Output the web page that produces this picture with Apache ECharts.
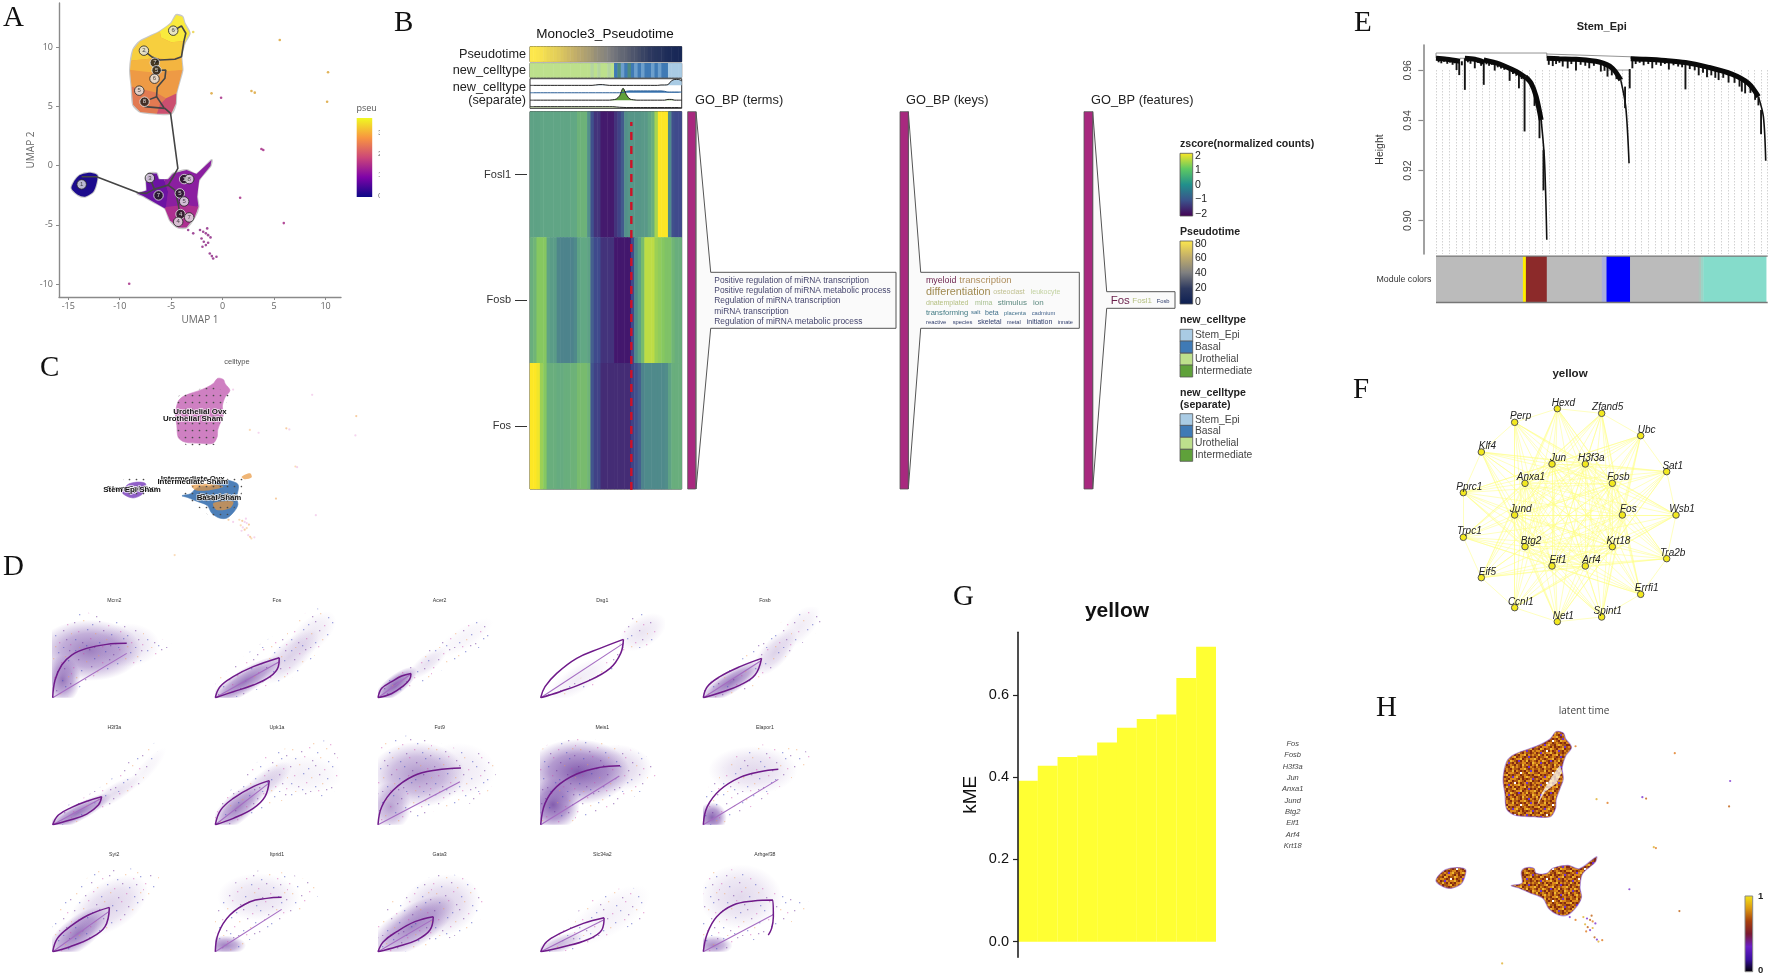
<!DOCTYPE html>
<html><head><meta charset="utf-8"><title>Figure</title>
<style>html,body{margin:0;padding:0;background:#fff}#c{width:1772px;height:978px;filter:blur(0.45px)}</style>
<script src="https://cdn.jsdelivr.net/npm/echarts@6/dist/echarts.min.js"></script>
</head><body><div id="c"></div>
<script>
/* ---------- Panel A / C / H : UMAP outlines (UMAP units) ---------- */
const umapUpper=[[-4.5,12.75],[-3.9,12.6],[-3.7,12.05],[-3.2,11.2],[-3.7,10.35],[-4,9.2],[-3.9,8.1],[-4.15,7.25],[-4.5,6.1],[-4.55,5.25],[-5,4.4],[-6.4,4.4],[-8,4.55],[-8.7,5.15],[-8.85,6.7],[-9,8.1],[-8.7,9.8],[-8.05,10.5],[-6.1,11.35],[-5,12.05]];
const umapLower=[[-8.3,-2.34],[-7.4,-2.1],[-7.46,-1.07],[-7.2,-.65],[-6.4,-.65],[-6.2,-1.15],[-5.3,-1.15],[-4.8,-.65],[-3.5,-.37],[-2.54,-.7],[-1.08,.48],[-1.18,-.03],[-2.28,-1.21],[-2.48,-2.62],[-2.35,-3.47],[-2.7,-4.31],[-3.51,-5.22],[-4.32,-5.22],[-5.13,-4.6],[-5.61,-3.61],[-6.75,-3.05],[-7.72,-2.57]];
const umapLowerNoSpike=[[-8.3,-2.34],[-7.4,-2.1],[-6.9,-1.5],[-6.2,-1.15],[-5.3,-1.15],[-4.8,-.65],[-3.5,-.37],[-2.45,-.75],[-2.28,-1.21],[-2.48,-2.62],[-2.35,-3.47],[-2.7,-4.31],[-3.51,-5.22],[-4.32,-5.22],[-5.13,-4.6],[-5.61,-3.61],[-6.75,-3.05],[-7.72,-2.57]];
const umapLeft=[[-14.68,-1.92],[-14.45,-1.35],[-13.87,-.79],[-12.9,-.59],[-12.18,-.79],[-12.25,-1.49],[-12.57,-2.2],[-13.38,-2.62],[-14.03,-2.48]];
const aBands=[
[[-4.5,12.75],[-3.9,12.6],[-3.7,12.05],[-3.2,11.2],[-3.6,10.55],[-5,10.45],[-6,10.85],[-6.1,11.35],[-5,12.05]],
[[-6.1,11.35],[-6,10.85],[-5,10.45],[-3.6,10.55],[-3.7,10.35],[-4,9.2],[-5.5,9],[-6.6,9.1],[-7.5,9],[-8.9,8.9],[-8.7,9.8],[-8.05,10.5]],
[[-8.9,8.9],[-7.5,9],[-6.6,9.1],[-5.5,9],[-4,9.2],[-3.9,8.1],[-5.5,7.9],[-7,7.9],[-7.8,7.9],[-9,8.1]],
[[-9,8.1],[-7,7.9],[-3.9,8.1],[-4.15,7.25],[-4.5,6.1],[-5.5,5.7],[-6.5,6.2],[-7.5,6.4],[-8.85,6.7]],
[[-8.85,6.7],[-7.5,6.4],[-6.5,6.2],[-5.5,5.7],[-6.1,5.2],[-6.4,4.4],[-8,4.55],[-8.7,5.15]],
[[-5.5,5.7],[-4.5,6.1],[-4.55,5.25],[-5,4.4],[-6.4,4.4],[-6.1,5.2]],
[[-8.3,-2.34],[-7.4,-2.1],[-7.46,-1.07],[-7.2,-.65],[-6.4,-.65],[-6.2,-1.15],[-5.7,-1.15],[-5.3,-2.2],[-5.5,-3.5],[-5.61,-3.61],[-6.75,-3.05],[-7.72,-2.57]],
[[-5.7,-1.15],[-5.3,-1.15],[-4.8,-.65],[-3.5,-.37],[-2.54,-.7],[-1.08,.48],[-1.18,-.03],[-2.28,-1.21],[-2.48,-2.62],[-2.35,-3.47],[-3.7,-3.3],[-5.5,-3.5],[-5.3,-2.2]],
[[-5.61,-3.61],[-5.5,-3.5],[-3.7,-3.3],[-2.35,-3.47],[-2.7,-4.31],[-3.51,-5.22],[-4.32,-5.22],[-5.13,-4.6]],
umapLeft];
const aBandColors=['#f9ea3d','#f7cf3e','#f4b540','#ee9a45','#e27a52','#cb4f70','#6c13a2','#8b1fa0','#ad2f90','#1c0b8d'];
const umapOutliers=[[5.55,10.63],[10.24,7.9],[10.15,5.41],[-1.08,6.12],[-.15,5.75],[2.8,6.32],[3.12,6.18],[3.77,1.41],[3.95,1.33],[1.7,-2.71],[5.94,-4.85],[-9.08,-9.98],[-2.86,11.31],[-1.89,-5.58],[-1.63,-5.72],[-2.05,-6.15],[-1.41,-5.87],[-1.18,-6.06],[-1.83,-6.43],[-1.41,-6.51],[-1.96,-6.85],[-1.63,-6.71],[-1.25,-7.42],[-.92,-7.84],[-.6,-7.7],[-1.05,-7.64],[-1.5,-5.3],[-2.2,-5.44],[-2.86,-5.72],[-3.35,-5.44]];
const aOutlierColors=['#d9a030','#d9a030','#d9a030','#d9a030','#a02080','#d9a030','#d9a030','#a02080','#a02080','#a02080','#a02080','#a02080','#e8d040','#8a1f80','#8a1f80','#8a1f80','#8a1f80','#8a1f80','#8a1f80','#8a1f80','#8a1f80','#8a1f80','#8a1f80','#8a1f80','#8a1f80','#8a1f80','#8a1f80','#8a1f80','#8a1f80','#8a1f80'];
const aPaths=[
[[-13.7,-.93],[-12.25,-.93],[-8.2,-2.28],[-7.4,-2.34],[-6.68,-2],[-5.29,-1.64],[-4.64,-2.06],[-4.32,-3.19],[-4.16,-4.17]],
[[-7.07,-1.04],[-6.59,-2.06]],
[[-5.29,-1.64],[-4.8,-.93],[-4.35,-.23],[-5.06,4.43],[-5.61,4.85],[-7.59,5]],
[[-7.07,5.61],[-6.42,5.84],[-6.36,6.63],[-5.61,7.39],[-5.52,8.09],[-6.42,8.04]],
[[-6.42,5.84],[-5.7,4.9]],
[[-7.65,9.73],[-6.91,9.22],[-6.1,8.94],[-4.64,9],[-4,9.22],[-3.77,10.49],[-3.58,11.2],[-4,11.82],[-4.8,11.42]],
[[-6.59,8.71],[-6.1,8.94]]];
const aNodes=[[-4.8,11.42,'6',0],[-7.65,9.73,'2',0],[-6.59,8.71,'7',1],[-6.42,8.07,'5',1],[-6.62,7.36,'6',0],[-8.1,6.35,'5',0],[-7.59,5.41,'8',1],[-7.07,-1.04,'3',0],[-3.74,-1.13,'1',1],[-3.25,-1.13,'8',0],[-6.23,-2.51,'7',1],[-4.16,-2.34,'5',1],[-3.74,-3.02,'5',0],[-4.09,-4.09,'4',1],[-3.25,-4.37,'7',0],[-4.32,-4.74,'4',0],[-13.7,-1.58,'1',0]];
const aXTicks=[-15,-10,-5,0,5,10];
const aYTicks=[-10,-5,0,5,10];
const aColorbarTicks=['3','2','1','0'];

/* ---------- Panel B ---------- */
const bGenes=['Fosl1','Fosb','Fos'];
const zFosl1=[.4,.4,.4,.45,.45,.45,.45,.45,.45,.45,.45,.45,.5,.5,.65,.65,.65,.1,-.9,-1.3,-1.3,-1.8,-1.8,-1.8,-1.8,-1.3,-1.1,-.7,.1,.2,.2,.2,.2,.25,.25,.45,.6,1.3,2,2,2,0,-.9,-1,-1];
const zFosb=[.6,.7,1,1,1,.4,.3,.3,-.05,-.1,-.1,-.1,-.1,0,.4,.5,.5,.4,-.6,-1,-1,-1.3,-1.3,-1.3,-1.3,-1.9,-1.9,-1.9,-1.9,-1.9,-1,0,.4,.8,1.5,1.5,1.5,1.2,1.1,1,.9,.9,.7,.6,.6];
const zFos=[2,2,1.9,1.2,1,.6,.6,.6,.55,.55,.6,.6,.65,.65,.8,.8,.8,.7,-.8,-1.1,-1.1,-1.4,-1.4,-1.4,-1.4,-1.4,-1.4,-1.4,-1.4,-1.4,-1.1,-.9,-.6,-.1,0,0,0,0,0,0,.05,.4,.6,.6,.6];
const pseudotimeBar=[80,80,79,78,76,74,73,72,70,68,66,64,62,60,58,56,54,52,50,47,45,44,42,40,38,36,34,33,32,30,28,27,25,23,22,20,18,16,15,14,10,9,8,7,6];
const celltypeBar=[0,0,0,0,0,0,0,0,0,0,0,0,0,0,0,0,0,0,1,0,1,0,0,1,0,2,4,3,2,4,2,3,2,3,2,2,3,2,3,2,2,5,5,5,5];
const celltypeBarColors=['#bde08c','#b4d5a0','#3f7ab5','#6c9fcc','#4d8a80','#a9cbe4'];
const trackStem=[0,0,0,0,0,0,0,0,0,0,0,0,0,0,0,0,0,0,0,.05,.1,.1,.05,0,0,0,0,0,0,0,0,0,0,0,0,0,0,0,.05,.05,.1,.6,.8,.8,.6];
const trackBasal=[0,0,0,0,0,0,0,0,0,0,0,0,0,0,0,0,0,0,0,0,0,0,0,0,0,0,0,.05,.2,.25,.25,.25,.25,.25,.25,.25,.25,.25,.25,.2,.1,.1,.1,.1,.1];
const trackInter=[0,0,0,0,0,0,0,0,0,0,0,0,0,0,0,0,0,0,0,0,0,0,0,0,.05,.15,.6,1.6,.7,.15,.05,0,0,0,0,0,0,0,0,0,.1,.1,0,0,0];
const trackUro=[.12,.12,.12,.12,.12,.12,.12,.12,.12,.12,.12,.12,.12,.12,.12,.12,.12,.12,.12,.12,.12,.12,.12,.12,.12,.08,.04,.02,0,0,0,0,0,0,0,0,0,0,0,0,0,0,0,0,0];
const bTerms=['Positive regulation of miRNA transcription','Positive regulation of miRNA metabolic process','Regulation of miRNA transcription','miRNA transcription','Regulation of miRNA metabolic process'];
const bLegendTypes=['Stem_Epi','Basal','Urothelial','Intermediate'];
const bLegendColors=['#a9cbe4','#3f7ab5','#bde08c','#5fa13a'];

/* ---------- Panel C ---------- */
const cLabels=['Urothelial Ovx','Urothelial Sham','Intermediate Ovx','Intermediate Sham','Stem Epi Ovx','Stem Epi Sham','Basal Ovx','Basal Sham'];
const cDotRegions=[
[[-8.33,11.03],[-4.97,11.68],[-3.19,10.83],[-3.54,9.75],[-4.26,6.97],[-4.62,4.18],[-7.8,4.05],[-9.29,6.11],[-9.2,9.54]],
[[-8.51,-2.03],[-4.6,.54],[-1.78,.33],[-1.96,-2.46],[-3.19,-4.82],[-5.3,-5.03],[-6.9,-3.53]],
[[-14.54,.1],[-12.23,.1],[-12.23,-2.46],[-14.54,-2.46]]];
const cOrange=[[[-7.27,-.96],[-4.97,-.83],[-3.9,-1.18],[-5.7,-1.69],[-6.9,-1.6]],[[-4.97,-3.3],[-2.85,-3.1],[-3.19,-3.96],[-4.62,-4.17]],[[-1.95,.1],[-1.06,.54],[-.88,.03],[-1.6,-.23]]];

/* ---------- Panel D : phase portraits (% of each small plot) ---------- */
const dGenes=['Mcm2','Fos','Acer2','Dsg1','Fosb','H3f3a','Upk1a','Fut9','Meis1','Elapor1','Syt2','Itprid1','Gata3','Slc34a2','Arhgef38'];
const dUpper=[
[[0,0],[1.9,19.4],[7.3,35.9],[15.3,46.9],[27.4,54.2],[43.5,58.6],[59.7,59.7]],
[[0,0],[3.8,12.1],[14.5,23.1],[30.6,34.1],[51.6,44]],
[[0,0],[3,10.3],[11,17.6],[19.1,23.8],[26.6,26.7]],
[[0,0],[3.5,12.1],[12.9,26.7],[29,43.2],[47.8,54.2],[66.7,64.1]],
[[0,0],[3.2,12.1],[13.4,23.1],[29.6,34.1],[47,43.2]],
[[0,0],[4.6,10.6],[15.3,19],[28.8,26.4],[39.5,30.8]],
[[0,0],[4.3,16.1],[14.5,28.9],[30.6,41.8],[43.5,48.4]],
[[0,0],[3,19.8],[12.4,38.1],[28.5,53.5],[47.3,60.1],[66.9,62.3]],
[[0,0],[3.5,23.4],[12.9,41.8],[29,55.7],[47.8,63],[64,64.8]],
[[0,0],[3.2,19.8],[13.4,38.1],[29.6,52],[45.7,58.2],[60.5,60.8]],
[[0,0],[3.8,14.7],[14,27.5],[28.8,40.3],[45.7,48.7]],
[[0,0],[2.4,20.1],[11.8,40.3],[28,54.9],[41.4,58.6],[53.5,59.7]],
[[0,0],[4.3,11],[15.1,22],[29.8,33],[44.6,38.5]],
[[0,0],[4.8,11],[15.6,20.1],[34.4,31.1],[51.1,37.4]],
[[0,0],[3.2,20.1],[10.8,38.5],[24.2,51.3],[40.3,55.7],[55.9,56.8],[56.5,38.5],[55.1,25.6],[52.4,18.3]]];
const dLower=[
[],
[[0,0],[14.5,6.6],[30.6,13.9],[44.1,23.1],[50.8,34.1],[51.6,44]],
[[0,0],[10.8,4.4],[20.2,12.8],[25.5,20.1],[26.6,26.7]],
[[0,0],[15.6,6.6],[37.1,17.6],[55.9,32.2],[64.5,48.7],[66.7,64.1]],
[[0,0],[13.4,5.5],[29.6,13.9],[41.7,24.9],[47,43.2]],
[[0,0],[14,5.1],[27.4,11.7],[36.8,21.6],[39.5,30.8]],
[[0,0],[14.5,7],[30.6,17.9],[40.1,30.8],[43.5,48.4]],
[],[],[],
[[0,0],[14,5.5],[30.1,14.7],[42.2,27.5],[45.7,48.7]],
[],
[[0,0],[15.1,5.5],[31.2,12.8],[41.9,23.8],[44.6,38.5]],
[[0,0],[18.3,5.5],[37.1,12.8],[49.2,23.8],[51.1,37.4]],
[]];
const dThinEnd=[[59.7,48.7],[51.6,39.6],[26.6,26],[66.7,59.7],[46.5,40.7],[39,28.9],[43,45.4],[66.1,47.3],[63.4,53.5],[60.5,49.8],[45.2,44],[53.5,46.5],[44.2,35.5],[50.6,34.8],[55.9,40.3]];
/* x, y, rx, ry, angle (degrees, rising to the right), alpha */
const dHaze=[
[[30,52,35,28,0,.68],[8,20,12,22,0,.72],[60,58,22,20,0,.18]],
[[24,18,30,11,32,.72],[60,45,25,14,42,.24],[78,70,20,14,42,.12]],
[[14,14,18,9,38,.82],[40,38,16,8,38,.16],[70,66,22,10,32,.06]],
[[30,20,25,12,32,.1],[82,72,18,14,32,.14]],
[[22,17,26,10,32,.72],[58,50,20,12,48,.24],[78,78,18,12,48,.1]],
[[20,13,26,8,28,.72],[50,35,20,8,32,.18],[75,60,20,7,48,.06]],
[[18,19,22,13,42,.66],[40,45,22,11,38,.26],[70,55,28,18,0,.08]],
[[32,55,32,30,0,.55],[10,20,14,22,0,.5],[65,60,25,25,0,.12]],
[[30,58,35,30,0,.85],[10,22,18,24,0,.85],[60,62,25,22,0,.25]],
[[7,8,10,14,0,.8],[40,60,30,22,0,.2]],
[[20,20,26,15,38,.7],[45,50,30,22,32,.24]],
[[8,7,14,9,0,.65],[35,60,28,22,0,.17]],
[[27,27,34,19,32,.62],[50,50,28,28,20,.26]],
[[15,8,18,8,22,.38],[55,40,32,18,32,.08]],
[[8,7,13,9,0,.6],[30,60,28,30,0,.2]]];
const dCloud=[
[[0,0],[0,48],[4.6,78],[22,94],[49,85],[76,71],[97,56],[65,37],[38,27],[11,1]],
[[0,0],[0,15],[14,35],[35,58],[60,78],[80,98],[100,85],[85,55],[65,25],[40,12],[15,0]],
[[0,0],[0,15],[15,30],[35,45],[55,70],[85,88],[90,65],[45,25],[25,8],[10,0]],
[[0,0],[18,15],[45,30],[65,62],[70,90],[90,90],[95,65],[75,50],[45,15],[15,0]],
[[0,0],[0,12],[22,32],[45,60],[65,85],[92,98],[95,78],[70,50],[48,18],[15,0]],
[[0,0],[0,12],[25,30],[45,48],[70,80],[85,90],[75,50],[50,22],[25,5],[8,0]],
[[0,0],[0,18],[15,42],[35,70],[60,85],[95,90],[95,35],[60,30],[40,15],[12,0]],
[[0,0],[0,85],[25,98],[60,85],[95,70],[85,30],[45,15],[18,0]],
[[0,0],[0,80],[20,95],[55,90],[95,65],[80,35],[40,10],[15,0]],
[[0,0],[0,30],[18,65],[45,88],[90,75],[65,45],[30,12],[12,0]],
[[0,0],[0,35],[15,65],[40,90],[85,85],[75,55],[45,25],[20,5]],
[[0,0],[0,50],[15,75],[40,90],[85,70],[70,45],[30,15],[15,0]],
[[0,0],[0,30],[15,60],[50,85],[80,75],[85,40],[50,10],[20,0]],
[[0,0],[15,25],[45,60],[75,70],[85,40],[55,18],[25,2]],
[[0,0],[0,85],[25,90],[60,65],[90,50],[60,25],[25,5]]];
const speckTile=[[3,2,0],[11,5,1],[17,1,3],[26,7,2],[33,3,0],[41,6,3],[47,1,1],[58,4,0],[65,8,2],[69,2,3],
[6,11,3],[14,13,2],[22,10,0],[30,14,1],[37,11,3],[45,15,0],[53,10,2],[61,14,1],[68,12,0],
[1,19,1],[9,22,0],[19,18,3],[25,23,2],[35,20,0],[42,24,1],[50,19,3],[57,23,0],[64,20,3],[71,25,1],
[4,29,2],[13,31,3],[21,27,1],[29,32,0],[38,28,2],[46,33,3],[54,29,1],[62,32,0],[68,28,2],
[7,38,0],[16,36,1],[24,40,3],[32,37,2],[40,41,0],[49,37,1],[56,42,3],[65,38,0],[70,35,3],
[2,46,3],[11,44,2],[20,48,0],[27,45,3],[36,49,1],[44,46,0],[52,50,3],[60,45,2],[67,48,1],
[6,55,1],[15,53,0],[23,57,2],[31,54,3],[39,58,0],[48,55,1],[55,59,0],[63,54,3],[71,57,2],
[3,63,0],[10,66,3],[18,62,1],[27,66,0],[34,63,2],[43,67,3],[51,62,0],[59,66,1],[66,63,3],
[7,71,2],[14,69,0],[22,71,3],[30,70,1],[38,69,3],[46,71,0],[55,70,2],[63,71,0],[70,68,1]];
const speckColors=['rgba(60,70,190,.48)','rgba(205,70,170,.42)','rgba(240,155,85,.42)','rgba(105,45,150,.48)'];

/* ---------- Panel E ---------- */
const eYTicks=[.90,.92,.94,.96];
const eBands=[
[[0,.9648],[32,.9644],[72,.9636]],
[[87,.9648],[117,.9644],[144,.9633]],
[[144,.9641],[192,.9625],[242,.9595],[269,.9572]],
[[269,.9575],[287,.9548],[302,.9495],[317,.9402]],
[[334,.9648],[372,.9646],[422,.9644],[492,.9633],[532,.9608],[557,.9561]],
[[587,.9646],[632,.9644],[692,.9639],[752,.9631],[822,.9612],[892,.9585],[942,.9548],[972,.9495]]];
const eTrunks=[
[[317,.9402],[327,.9243],[334,.8924]],
[[557,.9561],[572,.9455],[582,.9229]],
[[972,.9495],[987,.9415],[994,.9239]]];
const eLinks=[
[[0,.9669],[334,.9669]],[[0,.9669],[0,.9648]],[[334,.9669],[334,.9648]],
[[334,.9665],[587,.9654]],[[587,.9654],[752,.9636]],[[517,.9601],[584,.9601]],[[72,.9648],[87,.9648]],[[587,.9654],[587,.9646]]];
const eSpikes=[[87,.9648,.9522],[144,.9638,.9542],[267,.9572,.9356],[297,.9508,.9458],[312,.9442,.9329],[324,.9283,.9121],[570,.9535,.9449],[584,.9605,.9528],[752,.9632,.9524],[980,.9442,.9345],
[8,.9647,.9632],[16,.9646,.9628],[24,.9646,.9634],[34,.9644,.9626],[42,.9642,.9631],[50,.964,.9622],[56,.9639,.9628],[62,.9638,.9601],[70,.9636,.9581],[78,.9636,.962],[96,.9647,.9632],[104,.9646,.9626],[117,.9644,.9608],[126,.9641,.963],[136,.9636,.9618],[152,.9638,.9624],[160,.9636,.9618],[168,.9634,.9622],[177,.963,.9599],[186,.9627,.9612],[196,.9623,.9607],[206,.9617,.9602],[222,.9606,.9558],[232,.96,.9585],[242,.9594,.9578],[250,.9585,.9528],[258,.958,.9565],
[340,.9648,.9622],[352,.9647,.9617],[362,.9646,.9625],[372,.9646,.963],[382,.9646,.9615],[397,.9645,.9608],[408,.9645,.9625],[422,.9644,.9599],[436,.9642,.9622],[450,.964,.9618],[462,.9638,.9608],[476,.9635,.9618],[497,.9632,.9595],[508,.9626,.9598],[517,.9618,.9575],[530,.9608,.958],[544,.9595,.9565],
[592,.9646,.9608],[602,.9646,.9625],[614,.9645,.963],[626,.9644,.962],[640,.9643,.9625],[652,.9642,.9608],[664,.9641,.9622],[678,.964,.9618],[690,.9639,.9625],[702,.9638,.9603],[716,.9636,.962],[730,.9634,.9615],[742,.9632,.9612],[765,.9629,.9605],[780,.9625,.96],[792,.9622,.958],[805,.9618,.959],[817,.9612,.9572],[830,.9608,.958],[842,.9604,.957],[852,.96,.9561],[866,.9596,.957],[882,.9588,.9551],[900,.958,.955],[915,.957,.9535],[922,.9565,.9515],[932,.9558,.9508],[948,.954,.951],[962,.9522,.9482],[972,.9495,.946]];
const moduleStart=[0,262,271,334,500,514,585,792,799,806];
const moduleEnd=[262,271,334,500,514,585,792,799,806,995];
const moduleColor=['#bbbbbb','#ffee00','#8c2a2a','#bbbbbb','#a9aedd','#0000ff','#bbbbbb','#b0c4bc','#9cd3c6','#85dccb'];

/* ---------- Panel F ---------- */
const fNames=['Hexd','Zfand5','Ubc','Sat1','Wsb1','Tra2b','Errfi1','Spint1','Net1','Ccnl1','Eif5','Trpc1','Pprc1','Klf4','Perp','Jun','H3f3a','Fosb','Fos','Krt18','Arf4','Eif1','Btg2','Jund','Anxa1'];
const fX=[652,785,902,980,1008,980,902,785,652,524,424,370,370,424,524,636,736,817,847,817,736,636,555,524,555];
const fY=[146,160,227,335,465,596,703,771,785,743,653,532,398,276,187,312,312,370,465,560,618,618,560,465,370];
const fHubCount=10;

/* ---------- Panel G ---------- */
const gGenes=['Krt18','Arf4','Eif1','Btg2','Jund','Anxa1','Jun','H3f3a','Fosb','Fos'];
const gKME=[.391,.4275,.449,.4526,.484,.52,.541,.552,.641,.7166];
const gYTicks=[0,.2,.4,.6];

/* ---------- Panel H ---------- */
const hTile=['bobrobbrooybrbob','robbyrobrbrobpor','brooobrbwobryoob','oyrbrboorbobrbro','rbobpoybbroyobbr','obrooobrorbrbopb','bryorbbyobrooyrb','oobrbwrorbopbrob','rbpobooybrobbrbo','bybrorbrooyrobob','orbboyrbobrbprbr','brobrbooyrbobooy','robyobrprobyrbob','bopbrorbboorbryo','yrbobrobrybobrob','obroybobrobrpobr'];
const hTileColors={o:'#dc8a1c',y:'#eeb830',b:'#ac5812',r:'#842a10',p:'#7030c8',w:'#ffffff'};
const hGap=[[-4.18,9.47],[-4.01,8.81],[-4.46,7.67],[-5.45,6.85],[-6.15,5.45],[-5.73,6.69],[-4.88,8.32]];
const hOutlierPalette=['#e07a20','#7a30d0','#c06010','#e0b030'];

/* ---------- helpers ---------- */
const FONT='"Liberation Sans",Arial,sans-serif';
const grid=[],xAxis=[],yAxis=[],series=[],graphic=[],visualMap=[];
function addGrid(l,t,w,h,xo,yo,go){
  grid.push(Object.assign({left:l,top:t,width:w,height:h,containLabel:false,show:false},go||{}));
  xAxis.push(Object.assign({type:'value',gridIndex:grid.length-1,show:false,min:0,max:100,splitLine:{show:false}},xo||{}));
  yAxis.push(Object.assign({type:'value',gridIndex:grid.length-1,show:false,min:0,max:100,splitLine:{show:false}},yo||{}));
  return grid.length-1;
}
function T(text,x,y,size,color,o){o=o||{};
  graphic.push({type:'text',x:x,y:y,z:100,rotation:o.rot||0,silent:true,style:{text:text,fontSize:size,fill:color||'#222',fontFamily:o.family||FONT,fontWeight:o.weight||'normal',fontStyle:o.style||'normal',align:o.align||'left',verticalAlign:'middle',stroke:o.stroke,lineWidth:o.lw||0}});
}
function R(x,y,w,h,fill,stroke,lw,z){graphic.push({type:'rect',z:z||90,silent:true,shape:{x:x,y:y,width:w,height:h},style:{fill:fill,stroke:stroke||null,lineWidth:lw||0}});}
function vgrad(stops){return new echarts.graphic.LinearGradient(0,0,0,1,stops.map((c,i)=>({offset:i/(stops.length-1),color:c})));}
function polys(g,list,fills,opt){opt=opt||{};
  series.push({type:'custom',coordinateSystem:'cartesian2d',xAxisIndex:g,yAxisIndex:g,silent:true,z:opt.z||2,clip:!!opt.clip,
    data:list.map((p,i)=>[i,0]),
    renderItem:(pr,api)=>{const i=api.value(0);return {type:'polygon',shape:{points:list[i].map(q=>api.coord(q)),smooth:opt.smooth||0},style:{fill:Array.isArray(fills)?fills[i]:fills,stroke:opt.stroke||(Array.isArray(fills)?fills[i]:null),lineWidth:opt.lw===undefined?.6:opt.lw}};}});
}
function dots(g,pts,colors,size,z){
  series.push({type:'scatter',xAxisIndex:g,yAxisIndex:g,silent:true,symbolSize:size,z:z||3,data:pts.map((p,i)=>({value:p,itemStyle:{color:colors[i%colors.length]}}))});
}
function tile(w,h,draw){const c=document.createElement('canvas');c.width=w;c.height=h;draw(c.getContext('2d'));return {image:c,repeat:'repeat'};}

const speck=tile(72,72,ctx=>{speckTile.forEach(s=>{ctx.fillStyle=speckColors[s[2]];ctx.fillRect(s[0],s[1],1.3,1.3);});});
const hPattern=tile(32,32,ctx=>{hTile.forEach((row,j)=>{[...row].forEach((ch,i)=>{ctx.fillStyle=hTileColors[ch];ctx.fillRect(i*2,j*2,2,2);});});});
const cDotPattern=tile(7,7,ctx=>{ctx.fillStyle='#4a4a4a';ctx.beginPath();ctx.arc(3.5,3.5,.85,0,7);ctx.fill();});

/* ---------- Panel letters ---------- */
[['A',3,18],['B',394,23],['C',40,368],['D',3,567],['E',1354,23],['F',1353,390],['G',953,597],['H',1376,708]].forEach(l=>T(l[0],l[1],l[2],29,'#111',{family:'"Liberation Serif",serif'}));

/* ---------- Panel A ---------- */
const axGray={lineStyle:{color:'#8a8a8a',width:1.4}};
const gA=addGrid(59,3,282,294,
 {show:true,min:-15.9,max:11.5,axisLine:Object.assign({show:true,onZero:false},axGray),axisTick:{show:true,length:3,lineStyle:{color:'#8a8a8a'},customValues:aXTicks},axisLabel:{fontSize:9,color:'#666',margin:5,fontFamily:'"Open Sans"',customValues:aXTicks},name:'UMAP 1',nameLocation:'middle',nameGap:18,nameTextStyle:{fontSize:10,color:'#666',fontFamily:'"Open Sans"'}},
 {show:true,min:-11.1,max:13.76,axisLine:Object.assign({show:true,onZero:false},axGray),axisTick:{show:true,length:3,lineStyle:{color:'#8a8a8a'},customValues:aYTicks},axisLabel:{fontSize:9,color:'#666',margin:6,fontFamily:'"Open Sans"',customValues:aYTicks},name:'UMAP 2',nameLocation:'middle',nameGap:19,nameTextStyle:{fontSize:10,color:'#666',fontFamily:'"Open Sans"'}});
polys(gA,[umapUpper,umapLower,umapLeft],['#ee9a45','#8b1fa0','#1c0b8d'],{stroke:'#c8c8c8',lw:2,smooth:.25});
polys(gA,aBands.slice(0,9),aBandColors,{z:3,lw:0,stroke:'rgba(0,0,0,0)'});
polys(gA,[umapLeft],'#1c0b8d',{z:3,smooth:.25,lw:0,stroke:'rgba(0,0,0,0)'});
dots(gA,umapOutliers,aOutlierColors,2.6);
aPaths.forEach(p=>series.push({type:'line',xAxisIndex:gA,yAxisIndex:gA,data:p,showSymbol:false,silent:true,z:5,lineStyle:{color:'#454545',width:1.6}}));
series.push({type:'scatter',xAxisIndex:gA,yAxisIndex:gA,silent:true,z:6,symbolSize:9.5,
  data:aNodes.map(n=>({value:[n[0],n[1]],label:{show:true,formatter:n[2],position:'inside',fontSize:6,color:n[3]?'#fff':'#222'},itemStyle:{color:n[3]?'#1c1c1c':'#e4e4e4',borderColor:n[3]?'#e8e8e8':'#222',borderWidth:1}}))});
T('pseu',356.5,108,9,'#555',{family:'"Open Sans"'});
R(356.7,118,15.5,79,vgrad(['#f0f921','#f89540','#cc4778','#7e03a8','#0d0887']));
aColorbarTicks.forEach((s,i)=>T(s,378,[133,154,175,196][i],8,'#777'));
R(380,100,7,105,'#fff',null,0,101);

/* ---------- Panel B ---------- */
const cols=pseudotimeBar.map((_,i)=>String(i));
T('Monocle3_Pseudotime',605,34,13.5,'#111',{align:'center'});
[['Pseudotime',54],['new_celltype',70.7],['new_celltype',87],['(separate)',100.7]].forEach(r=>T(r[0],526,r[1],12.7,'#222',{align:'right'}));
const gbBorder={show:true,borderColor:'#333',borderWidth:1};
function hmAxes(){return {type:'category',data:cols,show:false};}
const gP=addGrid(530,46.7,151.7,15,hmAxes(),{type:'category',data:['p'],show:false,min:null,max:null},gbBorder);
xAxis[gP].min=null;xAxis[gP].max=null;
series.push({type:'heatmap',xAxisIndex:gP,yAxisIndex:gP,silent:true,data:pseudotimeBar.map((v,i)=>[i,0,v]),emphasis:{disabled:true},z:2});
visualMap.push({show:false,type:'continuous',min:0,max:80,seriesIndex:series.length-1,dimension:2,inRange:{color:['#0d1f52','#2e3a60','#808080','#c2ae6a','#fde74c']}});
const gT=addGrid(530,63.3,151.7,14,hmAxes(),{type:'category',data:['c'],show:false,min:null,max:null},gbBorder);
xAxis[gT].min=null;xAxis[gT].max=null;
series.push({type:'heatmap',xAxisIndex:gT,yAxisIndex:gT,silent:true,data:celltypeBar.map((v,i)=>[i,0,v]),emphasis:{disabled:true},z:2});
visualMap.push({show:false,type:'continuous',min:0,max:5,seriesIndex:series.length-1,dimension:2,inRange:{color:celltypeBarColors}});
const gS=addGrid(530,78.7,151.7,29.6,{min:0,max:44},{min:-.1,max:3.9},gbBorder);
[[trackStem,3,'#a9cbe4'],[trackBasal,2,'#3f7ab5'],[trackInter,1,'#5fa13a'],[trackUro,0,'#bde08c']].forEach((t,ti)=>{
  series.push({type:'line',xAxisIndex:gS,yAxisIndex:gS,silent:true,showSymbol:false,z:3,smooth:.3,
    data:t[0].map((v,i)=>[i,t[1]+v]),lineStyle:{color:ti==1?'#2a5e96':'#222',width:1},areaStyle:{origin:t[1],color:t[2],opacity:1}});
});
const gH=addGrid(530,111.7,151.7,377.3,hmAxes(),
 {type:'category',data:bGenes,inverse:true,show:true,offset:3,axisLine:{show:false},axisTick:{show:true,length:12,alignWithLabel:true,lineStyle:{color:'#333',width:1}},axisLabel:{fontSize:11,color:'#333',margin:16,fontFamily:FONT}},gbBorder);
xAxis[gH].min=null;xAxis[gH].max=null;yAxis[gH].min=null;yAxis[gH].max=null;
series.push({type:'heatmap',xAxisIndex:gH,yAxisIndex:gH,silent:true,emphasis:{disabled:true},z:2,
  data:[].concat(zFosl1.map((v,i)=>[i,0,v]),zFosb.map((v,i)=>[i,1,v]),zFos.map((v,i)=>[i,2,v]))});
visualMap.push({show:false,type:'continuous',min:-2,max:2,seriesIndex:series.length-1,dimension:2,inRange:{color:['#43146c','#45246f','#3f4a8c','#46668e','#4f8a8b','#62a884','#86c860','#bddc45','#fde725']}});
const gR=addGrid(530,122,151.7,368,{min:0,max:1},{min:0,max:1});
series.push({type:'line',xAxisIndex:gR,yAxisIndex:gR,silent:true,showSymbol:false,z:6,data:[[.668,0],[.668,1]],lineStyle:{color:'#cf1126',width:2.4,type:[8,6]}});
T('GO_BP (terms)',695,100,12.8,'#222');
T('GO_BP (keys)',906,100,12.8,'#222');
T('GO_BP (features)',1091,100,12.8,'#222');
[[687.7,8],[900,8.3],[1084,8.7]].forEach(b=>R(b[0],111.7,b[1],377.3,'#a8297f','#555',.8));
function conn(x0,x1,x2,y1,y2){graphic.push({type:'polygon',z:80,silent:true,shape:{points:[[x0,111.7],[x1,y1],[x2,y1],[x2,y2],[x1,y2],[x0,489]]},style:{fill:'#fafafa',stroke:'#555',lineWidth:1}});}
conn(696,710.7,896,272.3,328.3);conn(908.3,920.7,1079.3,272.3,328.3);conn(1092.7,1106.7,1175,291.7,308.3);
bTerms.forEach((s,i)=>T(s,714.3,[280.7,290.7,301,311.3,321.3][i],8.4,'#46466e'));
[['myeloid',926,280.7,8.8,'#6a1f4a'],['transcription',959.3,280.7,9.6,'#b09060'],['differentiation',926,292,10.8,'#a08a50'],['osteoclast',993.3,292.5,7,'#c0c090'],['leukocyte',1030.7,292.5,7,'#c2d2a0'],
 ['dnatemplated',926,302.7,7,'#b4bf80'],['mirna',975,302.7,7,'#a8c090'],['stimulus',997.7,302.7,8,'#5d8a80'],['ion',1033,302.7,8,'#5d8a80'],
 ['transforming',926,312.7,7.6,'#447c85'],['salt',971,312.7,6,'#3f6f8a'],['beta',985,312.7,7,'#3f6f8a'],['placenta',1004,313,5.8,'#3f6f8a'],['cadmium',1031.7,313,5.8,'#3f5f8a'],
 ['reactive',926,322,5.8,'#33406e'],['species',952.7,322,5.8,'#33406e'],['skeletal',977.7,322,7,'#33406e'],['metal',1006.7,322,5.8,'#33406e'],['initiation',1026.7,322,7,'#33406e'],['innate',1057.7,322,5.6,'#33406e'],
 ['Fos',1110.7,300.7,11.5,'#6a1f4a'],['Fosl1',1132.3,300.7,8,'#b4bf80'],['Fosb',1156.7,301,5.8,'#33406e']].forEach(w=>T(w[0],w[1],w[2],w[3],w[4]));
/* B legends */
T('zscore(normalized counts)',1180,144,10.6,'#222',{weight:'bold'});
R(1180,153.3,12.7,62.7,vgrad(['#fde725','#5ec962','#21908c','#3b528b','#440154']),'#555',.8);
['2','1','0','\u22121','\u22122'].forEach((s,i)=>T(s,1195,[156,170,184.7,199.3,214][i],10.5,'#222'));
T('Pseudotime',1180,231.7,10.6,'#222',{weight:'bold'});
R(1180,241,12.7,63,vgrad(['#fde74c','#c2ae6a','#808080','#2e3a60','#0d1f52']),'#555',.8);
['80','60','40','20','0'].forEach((s,i)=>T(s,1195,[244,258.3,273,287.7,302][i],10.5,'#222'));
T('new_celltype',1180,320.3,10.6,'#222',{weight:'bold'});
T('new_celltype',1180,393.3,10.6,'#222',{weight:'bold'});
T('(separate)',1180,404.7,10.6,'#222',{weight:'bold'});
[[335.3,347,359.3,371],[419.7,431.3,443.3,455.3]].forEach(ys=>ys.forEach((y,i)=>{R(1180,y-6,12.7,12,bLegendColors[i],'#555',.8);T(bLegendTypes[i],1195,y,10.3,'#444');}));

/* ---------- Panel C ---------- */
T('celltype',237,361.7,7.5,'#555',{align:'center'});
const gC=addGrid(109.6,372.5,263.2,190.5,{min:-16,max:12},{min:-11,max:13.5});
polys(gC,[umapUpper,umapLowerNoSpike,umapLeft],['#cf80c2','#4d7fb8','#9160c8'],{z:2,smooth:.3});
polys(gC,cOrange,'rgba(232,150,60,.7)',{z:3,lw:0,stroke:'rgba(0,0,0,0)',smooth:.3});
polys(gC,cDotRegions,cDotPattern,{z:3,lw:0,stroke:'rgba(0,0,0,0)'});
dots(gC,umapOutliers,['#f3c9ea','#f5c08a','#f3c9ea','#f9d2a8'],2.2);
[['Urothelial Ovx',200,412.3],['Urothelial Sham',193,418.7],['Intermediate Ovx',192.7,479],['Intermediate Sham',192.7,482],['Stem Epi Ovx',132,489],['Stem Epi Sham',132,490],['Basal Ovx',219,497],['Basal Sham',219,498]].forEach((l,i)=>T(cLabels[i],l[1],l[2],7.9,'#111',{align:'center',weight:'bold',stroke:'rgba(255,255,255,.75)',lw:1.5}));

/* ---------- Panel D ---------- */
const dOx=[52.7,215.3,378,540.7,703.3],dBy=[697.7,824.7,951.7];
dGenes.forEach((gene,k)=>{
  const c=k%5,r=Math.floor(k/5),x0=dOx[c],by=dBy[r];
  T(gene,x0+61.6,by-97.4,5.2,'#333',{align:'center'});
  const g=addGrid(x0,by-91,124,91,{min:0,max:100},{min:0,max:100});
  const h=dHaze[k];
  series.push({type:'custom',coordinateSystem:'cartesian2d',xAxisIndex:g,yAxisIndex:g,silent:true,z:2,clip:true,data:h.map((b,i)=>[i,0]),
    renderItem:(pr,api)=>{const b=h[api.value(0)],p=api.coord([b[0],b[1]]),s=api.size([1,1]);
      return {type:'circle',shape:{cx:0,cy:0,r:1},x:p[0],y:p[1],scaleX:b[2]*s[0]*1.2,scaleY:b[3]*s[1]*1.2,rotation:b[4]*Math.PI/180,
        style:{fill:new echarts.graphic.RadialGradient(.5,.5,.5,[{offset:0,color:'rgba(110,65,160,'+b[5]+')'},{offset:.55,color:'rgba(120,75,170,'+(b[5]*.65)+')'},{offset:1,color:'rgba(130,90,180,0)'}])}};}});
  polys(g,[dCloud[k]],speck,{z:3,lw:0,stroke:'rgba(0,0,0,0)',smooth:.3,clip:true});
  series.push({type:'line',xAxisIndex:g,yAxisIndex:g,silent:true,showSymbol:false,z:4,data:[[0,0],dThinEnd[k]],lineStyle:{color:'#a56cc2',width:1.1}});
  series.push({type:'line',xAxisIndex:g,yAxisIndex:g,silent:true,showSymbol:false,z:5,smooth:.4,data:dUpper[k],lineStyle:{color:'#6f1a8a',width:1.5}});
  if(dLower[k].length)series.push({type:'line',xAxisIndex:g,yAxisIndex:g,silent:true,showSymbol:false,z:5,smooth:.4,data:dLower[k],lineStyle:{color:'#6f1a8a',width:1.5}});
});

/* ---------- Panel E ---------- */
T('Stem_Epi',1601.7,27,11,'#222',{align:'center',weight:'bold'});
const gE0=addGrid(1436,70,331.7,184,{show:true,min:0,max:1000,interval:20,axisLine:{show:false},axisTick:{show:false},axisLabel:{show:false},splitLine:{show:true,lineStyle:{color:'#d2d2d2',type:[1.5,1.5],width:1}}},{min:0,max:1});
const gE=addGrid(1436,45,331.7,209,{min:0,max:1000},
 {show:true,min:.8867,max:.9701,offset:12.7,axisLine:{show:true,onZero:false,lineStyle:{color:'#8a8a8a',width:1.6}},axisTick:{show:true,length:5,lineStyle:{color:'#8a8a8a',width:1.2},customValues:eYTicks},
  axisLabel:{rotate:90,fontSize:10.5,color:'#444',margin:10,formatter:v=>v.toFixed(2),customValues:eYTicks},name:'Height',nameLocation:'middle',nameGap:38,nameTextStyle:{fontSize:10.5,color:'#333'}});
eLinks.forEach(p=>series.push({type:'line',xAxisIndex:gE,yAxisIndex:gE,silent:true,showSymbol:false,z:3,data:p,lineStyle:{color:'#777',width:.8}}));
eTrunks.forEach(p=>series.push({type:'line',xAxisIndex:gE,yAxisIndex:gE,silent:true,showSymbol:false,smooth:.3,z:4,data:p,lineStyle:{color:'#111',width:1.6}}));
eBands.forEach(p=>series.push({type:'line',xAxisIndex:gE,yAxisIndex:gE,silent:true,showSymbol:false,smooth:.3,z:5,data:p,lineStyle:{color:'#0a0a0a',width:5}}));
series.push({type:'custom',coordinateSystem:'cartesian2d',xAxisIndex:gE,yAxisIndex:gE,silent:true,z:5,clip:false,data:eSpikes.map((s,i)=>[i,0]),
  renderItem:(pr,api)=>{const s=eSpikes[api.value(0)],a=api.coord([s[0],s[1]]),b=api.coord([s[0],s[2]]);return {type:'line',shape:{x1:a[0],y1:a[1],x2:b[0],y2:b[1]},style:{stroke:'#151515',lineWidth:1.9}};}});
const gM=addGrid(1436,256,331.7,46.7,{min:0,max:1000},{min:0,max:1});
series.push({type:'custom',coordinateSystem:'cartesian2d',xAxisIndex:gM,yAxisIndex:gM,silent:true,z:2,clip:false,data:moduleStart.map((s,i)=>[i,0]),
  renderItem:(pr,api)=>{const i=api.value(0),a=api.coord([moduleStart[i],1]),b=api.coord([moduleEnd[i],0]);return {type:'rect',shape:{x:a[0],y:a[1],width:b[0]-a[0]+.4,height:b[1]-a[1]},style:{fill:moduleColor[i]}};}});
R(1436,255.4,331.7,1.4,'#777');R(1436,301.8,331.7,1.4,'#777');
T('Module colors',1431.3,279.3,8.8,'#333',{align:'right'});

/* ---------- Panel F ---------- */
T('yellow',1570,373.7,11.5,'#222',{align:'center',weight:'bold'});
const gF=addGrid(1340,360,400,280,{min:0,max:1200},{min:0,max:840,inverse:true});
const fHubs=fNames.slice(15,15+fHubCount);
const fLinks=[];
fHubs.forEach((hub,j)=>fNames.forEach((n,i)=>{if(n!==hub&&!(i>=15&&i-15<j))fLinks.push({source:hub,target:n});}));
fNames.slice(0,15).forEach((n,i)=>{fLinks.push({source:n,target:fNames[(i+1)%15]});fLinks.push({source:n,target:fNames[(i+5)%15]});});
series.push({type:'graph',coordinateSystem:'cartesian2d',xAxisIndex:gF,yAxisIndex:gF,silent:true,z:3,symbolSize:6.5,
  data:fNames.map((n,i)=>({name:n,value:[fX[i],fY[i]]})),links:fLinks,
  itemStyle:{color:'#f2e81e',borderColor:'#555',borderWidth:1,opacity:1},
  lineStyle:{color:'#ffff80',width:1,opacity:.5,curveness:0},
  label:{show:true,position:'top',distance:0,offset:[6,3],fontSize:10,fontStyle:'italic',color:'#222',fontFamily:FONT,formatter:'{b}'}});

/* ---------- Panel G ---------- */
T('yellow',1117,611.7,21,'#111',{align:'center',weight:'bold'});
const gG=addGrid(1018,632.3,198,325,{type:'category',data:gGenes,show:true,axisLine:{show:false},axisTick:{show:false},axisLabel:{show:false},min:null,max:null},
 {show:true,z:10,min:-.038,max:.752,axisLine:{show:true,onZero:false,lineStyle:{color:'#222',width:1.6}},axisTick:{show:true,length:5,lineStyle:{color:'#222',width:1.2},customValues:gYTicks},
  axisLabel:{fontSize:14.5,color:'#111',margin:9,formatter:v=>v.toFixed(1),customValues:gYTicks,fontFamily:FONT},name:'kME',nameLocation:'middle',nameGap:38,nameRotate:90,nameTextStyle:{fontSize:19,color:'#111',fontFamily:FONT}});
series.push({type:'bar',xAxisIndex:gG,yAxisIndex:gG,silent:true,data:gKME,barCategoryGap:0,barWidth:'100.5%',itemStyle:{color:'#ffff33'},z:2});
gGenes.slice().reverse().forEach((n,i)=>T(n,1292.7,[743.7,755,767,778.3,789.3,800.7,812,823.3,834.7,846][i],7.5,'#444',{align:'center',style:'italic'}));

/* ---------- Panel H ---------- */
T('latent time',1584,711.3,10,'#444',{align:'center',family:'"Open Sans"'});
const gH2=addGrid(1420.5,723.9,330.4,249.9,{min:-16,max:12},{min:-11,max:13.5});
polys(gH2,[umapUpper,umapLower,umapLeft],hPattern,{z:2,stroke:'rgba(120,70,210,.5)',lw:1.2,smooth:.3});
polys(gH2,[hGap],'rgba(255,255,255,.72)',{z:3,lw:0,stroke:'rgba(0,0,0,0)'});
dots(gH2,umapOutliers,hOutlierPalette,2.2);
R(1745,896,7.7,75.7,vgrad(['#f4e41a','#dc9a10','#a8400c','#7a1a30','#6a1ec8','#3a10a0','#000000']),'#888',1);
T('1',1758,896,9.5,'#222',{weight:'bold'});T('0',1758,970.7,9.5,'#222',{weight:'bold'});

const chart=echarts.init(document.getElementById('c'),null,{renderer:'canvas'});
chart.setOption({animation:false,backgroundColor:'#fff',textStyle:{fontFamily:FONT},grid,xAxis,yAxis,series,visualMap,graphic:{elements:graphic},tooltip:{show:false}});
</script></body></html>
